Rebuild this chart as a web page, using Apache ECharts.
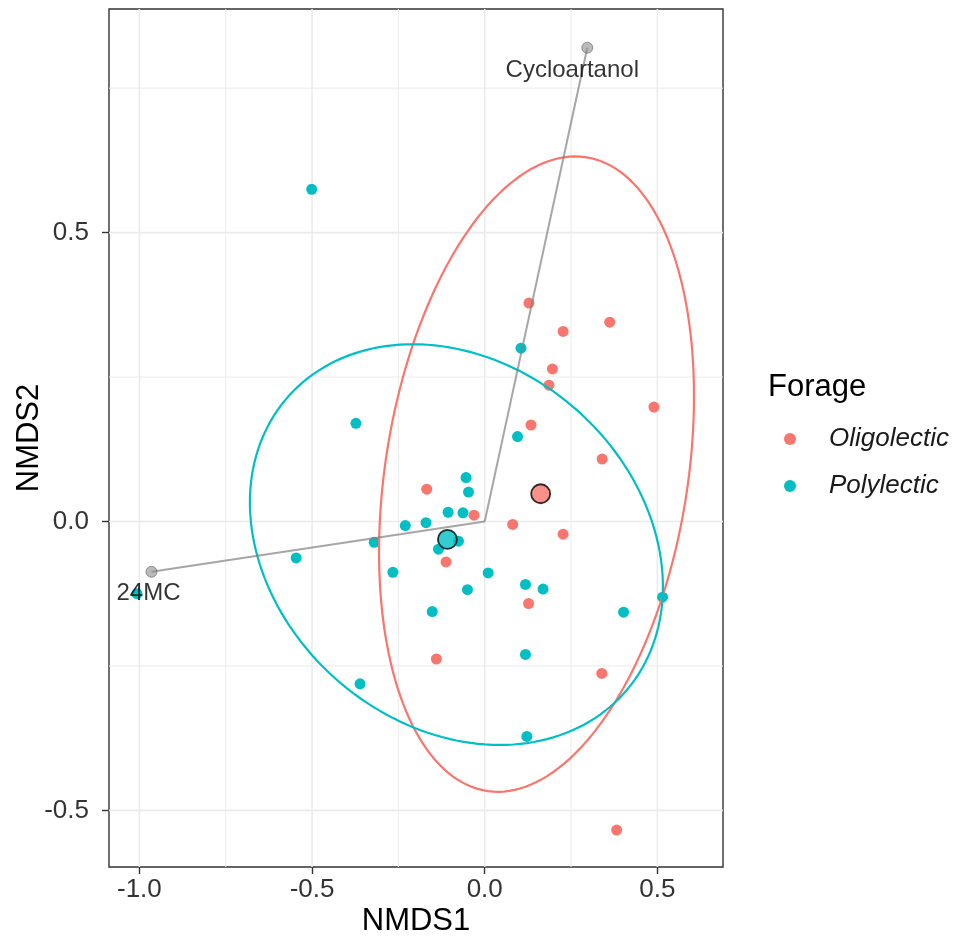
<!DOCTYPE html>
<html><head><meta charset="utf-8">
<script src="https://cdn.jsdelivr.net/npm/echarts@6/dist/echarts.min.js"></script>
<style>html,body{margin:0;padding:0;background:#fff}#c{width:958px;height:941px}</style>
</head><body><div id="c"></div>
<script>
// ---- data ----
const groups = ['Oligolectic', 'Polylectic'];
const oligoX = [0.128, 0.362, 0.227, 0.196, 0.186, 0.490, 0.134, 0.340, -0.168, -0.031, 0.081, 0.227, -0.112, 0.127, -0.140, 0.339, 0.382];
const oligoY = [0.378, 0.345, 0.329, 0.264, 0.236, 0.198, 0.167, 0.108, 0.056, 0.011, -0.005, -0.022, -0.070, -0.142, -0.238, -0.263, -0.534];
const polyX = [-0.501, -0.373, 0.105, 0.095, -0.054, -0.047, -0.106, -0.063, -0.170, -0.230, -0.076, -0.320, -0.134, -0.546, -0.266, 0.010, -0.050, 0.118, 0.169, -1.007, 0.515, -0.152, 0.402, 0.118, -0.361, 0.122];
const polyY = [0.575, 0.170, 0.300, 0.147, 0.076, 0.051, 0.016, 0.015, -0.002, -0.007, -0.034, -0.036, -0.048, -0.063, -0.088, -0.089, -0.118, -0.109, -0.117, -0.125, -0.131, -0.156, -0.157, -0.230, -0.281, -0.372];
const centroidX = [0.162, -0.108];
const centroidY = [0.048, -0.031];
const vectorNames = ['Cycloartanol', '24MC'];
const vectorX = [0.297, -0.965];
const vectorY = [0.820, -0.087];
// ellipse: x = cx + p*cos t ; y = cy + q*cos t + r*sin t
const ellipseCX = [0.150, -0.082];
const ellipseCY = [0.082, -0.040];
const ellipseP = [0.456, 0.598];
const ellipseQ = [0.135, -0.073];
const ellipseR = [0.533, 0.339];
const xTicks = [-1.0, -0.5, 0.0, 0.5];
const yTicks = [-0.5, 0.0, 0.5];
const xMinor = [-0.75, -0.25, 0.25];
const yMinor = [-0.25, 0.25, 0.75];
const xRange = [-1.088, 0.690];
const yRange = [-0.598, 0.887];

// ---- styling ----
const colors = ['#F8766D', '#00BFC4'];
const FONT = '"Liberation Sans", Arial, Helvetica, sans-serif';
const labelOffsets = [[-15, 23], [-3, 22]];

const zip = (xs, ys) => xs.map((x, i) => [x, ys[i]]);

const chart = echarts.init(document.getElementById('c'), null, {renderer: 'canvas'});

const gridSeries = {
  type: 'custom', silent: true, z: 0,
  data: [[0, 0]],
  renderItem: function (params, api) {
    const cs = params.coordSys;
    const children = [];
    const addV = (v, w) => {
      const px = api.coord([v, 0])[0];
      children.push({type: 'line', shape: {x1: px, y1: cs.y, x2: px, y2: cs.y + cs.height},
        style: {stroke: '#EBEBEB', lineWidth: w}});
    };
    const addH = (v, w) => {
      const py = api.coord([0, v])[1];
      children.push({type: 'line', shape: {x1: cs.x, y1: py, x2: cs.x + cs.width, y2: py},
        style: {stroke: '#EBEBEB', lineWidth: w}});
    };
    xMinor.forEach(v => addV(v, 1));
    yMinor.forEach(v => addH(v, 1));
    xTicks.forEach(v => addV(v, 1.6));
    yTicks.forEach(v => addH(v, 1.6));
    return {type: 'group', children: children};
  }
};

const ellipseSeries = {
  type: 'custom', silent: true, z: 3,
  data: ellipseCX.map((cx, i) => [cx, ellipseCY[i]]),
  renderItem: function (params, api) {
    const i = params.dataIndex;
    const pts = [];
    const N = 180;
    for (let k = 0; k <= N; k++) {
      const t = 2 * Math.PI * k / N;
      const x = ellipseCX[i] + ellipseP[i] * Math.cos(t);
      const y = ellipseCY[i] + ellipseQ[i] * Math.cos(t) + ellipseR[i] * Math.sin(t);
      pts.push(api.coord([x, y]));
    }
    return {type: 'polyline', shape: {points: pts},
      style: {fill: null, stroke: colors[i], lineWidth: 2.2}};
  }
};

const arrowSeries = {
  type: 'custom', silent: true, z: 4,
  data: zip(vectorX, vectorY),
  renderItem: function (params, api) {
    const o = api.coord([0, 0]);
    const e = api.coord([api.value(0), api.value(1)]);
    return {type: 'line', shape: {x1: o[0], y1: o[1], x2: e[0], y2: e[1]},
      style: {stroke: 'rgba(128,128,128,0.7)', lineWidth: 2}};
  }
};

const arrowEnds = {
  type: 'scatter', z: 5, silent: true,
  symbolSize: 11,
  itemStyle: {color: 'rgba(140,140,140,0.75)', borderColor: 'rgba(100,100,100,0.8)', borderWidth: 1},
  data: vectorX.map((x, i) => ({
    value: [x, vectorY[i]], name: vectorNames[i],
    label: {show: true, formatter: vectorNames[i], position: 'inside', offset: labelOffsets[i],
      color: '#000', fontSize: 24, fontFamily: FONT}
  }))
};

const option = {
  animation: false,
  backgroundColor: '#fff',
  textStyle: {fontFamily: FONT},
  grid: {left: 109, top: 9, width: 614, height: 858, show: true, borderColor: '#333', borderWidth: 1.4,
    backgroundColor: 'transparent', containLabel: false},
  xAxis: {
    type: 'value', min: xRange[0], max: xRange[1],
    axisLine: {show: false, onZero: false},
    splitLine: {show: false},
    axisTick: {show: true, length: 7, lineStyle: {color: '#333', width: 1.4}, customValues: xTicks},
    axisLabel: {customValues: xTicks, formatter: v => v.toFixed(1), fontSize: 26, color: '#333', margin: 10, fontFamily: FONT}
  },
  yAxis: {
    type: 'value', min: yRange[0], max: yRange[1],
    axisLine: {show: false, onZero: false},
    splitLine: {show: false},
    axisTick: {show: true, length: 7, lineStyle: {color: '#333', width: 1.4}, customValues: yTicks},
    axisLabel: {customValues: yTicks, formatter: v => v.toFixed(1), fontSize: 26, color: '#333', margin: 20, fontFamily: FONT}
  },
  legend: {
    orient: 'vertical', left: 784, top: 426, padding: 0, itemGap: 21,
    itemWidth: 12, itemHeight: 12,
    selectedMode: false,
    textStyle: {fontSize: 26, fontStyle: 'italic', color: '#1a1a1a', padding: [0, 0, 0, 28], lineHeight: 26, fontFamily: FONT},
    data: groups.map(g => ({name: g, icon: 'circle'}))
  },
  graphic: [
    {type: 'text', x: 768, y: 387, style: {text: 'Forage', fontSize: 31, fill: '#000', fontFamily: FONT, verticalAlign: 'middle'}},
    {type: 'text', x: 416, y: 921, style: {text: 'NMDS1', fontSize: 31, fill: '#000', fontFamily: FONT, align: 'center', verticalAlign: 'middle'}},
    {type: 'text', x: 29, y: 438, rotation: Math.PI / 2, style: {text: 'NMDS2', fontSize: 31, fill: '#000', fontFamily: FONT, align: 'center', verticalAlign: 'middle'}}
  ],
  series: [
    gridSeries,
    {type: 'scatter', name: groups[0], z: 2, symbolSize: 11, itemStyle: {color: colors[0], opacity: 1}, data: zip(oligoX, oligoY)},
    {type: 'scatter', name: groups[1], z: 2, symbolSize: 11, itemStyle: {color: colors[1], opacity: 1}, data: zip(polyX, polyY)},
    ellipseSeries,
    arrowSeries,
    arrowEnds,
    {type: 'scatter', name: 'centroids', z: 6, symbolSize: 19, silent: true,
      data: centroidX.map((x, i) => ({value: [x, centroidY[i]], itemStyle: {color: colors[i]}})),
      itemStyle: {borderColor: '#000', borderWidth: 1.8}}
  ]
};
chart.setOption(option);
</script>
</body></html>
